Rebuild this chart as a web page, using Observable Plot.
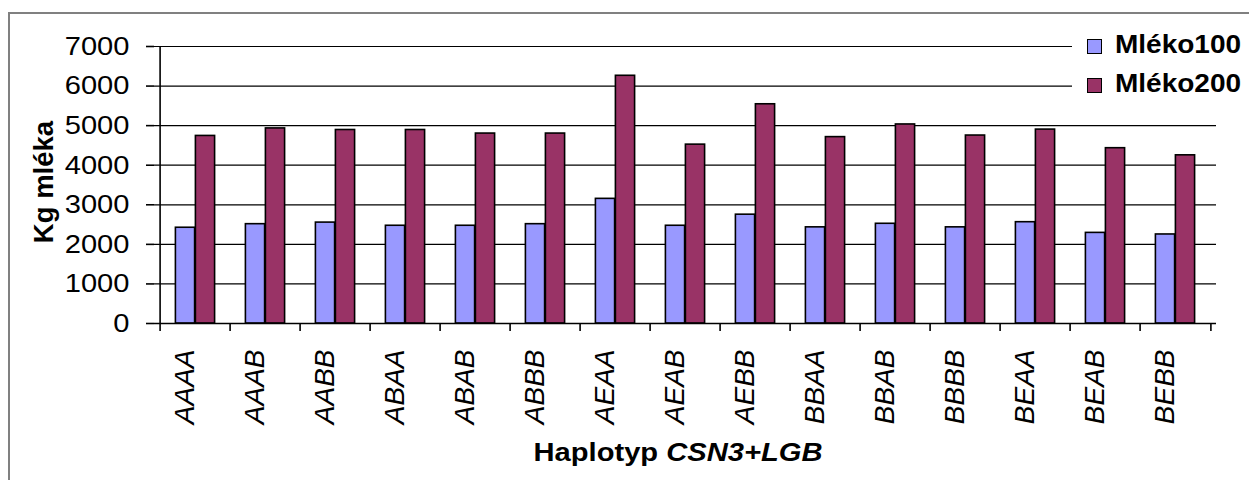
<!DOCTYPE html>
<html>
<head>
<meta charset="utf-8">
<script src="https://cdn.jsdelivr.net/npm/d3@7"></script>
<script src="https://cdn.jsdelivr.net/npm/@observablehq/plot@0.6"></script>
<style>
  html, body { margin: 0; padding: 0; background: #fff; }
  #wrap { position: relative; width: 1249px; height: 480px; overflow: hidden; font-family: "Liberation Sans", Arial, sans-serif; color: #000; }
  #border { position: absolute; left: 8px; top: 12px; width: 1400px; height: 600px; border: 2px solid #808080; box-sizing: border-box; }
  #chart { position: absolute; left: 0; top: 0; }
  #ylabel { position: absolute; left: 44px; top: 182px; transform: translate(-50%, -50%) rotate(-90deg); font-weight: bold; font-size: 27.5px; line-height: 1; white-space: nowrap; }
  #xlabel { position: absolute; left: 678px; top: 451.5px; transform: translate(-50%, -50%) scaleX(1.12); font-weight: bold; font-size: 26px; line-height: 1; white-space: nowrap; }
  #legendbg { position: absolute; left: 1072px; top: 24px; width: 177px; height: 84px; background: #fff; }
  .sw { position: absolute; left: 1087px; width: 15px; height: 15px; border: 1.5px solid #000; box-sizing: border-box; }
  .lt { position: absolute; left: 1115px; font-weight: bold; font-size: 25px; line-height: 1; white-space: nowrap; transform: scaleX(1.12); transform-origin: left center; }
</style>
</head>
<body>
<div id="wrap">
  <div id="border"></div>
  <div id="chart"></div>
  <div id="ylabel">Kg mléka</div>
  <div id="xlabel">Haplotyp <i>CSN3+LGB</i></div>
  <div id="legendbg"></div>
</div>
<script>
const categories = ["AAAA","AAAB","AABB","ABAA","ABAB","ABBB","AEAA","AEAB","AEBB","BBAA","BBAB","BBBB","BEAA","BEAB","BEBB"];
const seriesNames = ["Mléko100", "Mléko200"];
const mleko100 = [2420, 2510, 2550, 2470, 2470, 2510, 3150, 2470, 2750, 2430, 2520, 2430, 2560, 2290, 2250];
const mleko200 = [4740, 4930, 4890, 4890, 4800, 4800, 6260, 4520, 5540, 4710, 5030, 4750, 4900, 4430, 4250];
const yTicks = [0, 1000, 2000, 3000, 4000, 5000, 6000, 7000];
const colors = ["#9999FF", "#993366"];

const W = 1249, H = 480, mL = 154, mR = 33, mT = 46, mB = 157;
const bw = (W - mL - mR) / categories.length;
const barW = 20;

const rows100 = categories.map((c, i) => ({hap: c, value: mleko100[i]}));
const rows200 = categories.map((c, i) => ({hap: c, value: mleko200[i]}));

const chart = Plot.plot({
  width: W, height: H,
  marginLeft: mL, marginRight: mR, marginTop: mT, marginBottom: mB,
  style: {fontFamily: "'Liberation Sans', Arial, sans-serif", fontSize: "26px", color: "#000", background: "transparent", overflow: "visible"},
  x: {domain: categories, padding: 0, label: null},
  y: {domain: [0, 7000], label: null},
  marks: [
    Plot.ruleY(yTicks.slice(1), {stroke: "#000", strokeWidth: 1.2}),
    Plot.barY(rows100, {x: "hap", y: "value", fill: colors[0], stroke: "#000", strokeWidth: 1.6, insetLeft: bw / 2 - barW, insetRight: bw / 2}),
    Plot.barY(rows200, {x: "hap", y: "value", fill: colors[1], stroke: "#000", strokeWidth: 1.6, insetLeft: bw / 2, insetRight: bw / 2 - barW}),
    Plot.ruleY([0], {stroke: "#000", strokeWidth: 1.6}),
    Plot.ruleX([categories[0]], {x: d => d, y1: 0, y2: 7000, dx: -bw / 2, stroke: "#000", strokeWidth: 1.6}),
    Plot.ruleX(categories, {x: d => d, y1: -200, y2: 0, dx: -bw / 2, stroke: "#000", strokeWidth: 1.6}),
    Plot.ruleX([categories[categories.length - 1]], {x: d => d, y1: -200, y2: 0, dx: bw / 2, stroke: "#000", strokeWidth: 1.6}),
    Plot.axisY({ticks: yTicks, tickFormat: d3.format("d"), tickSize: 8, tickPadding: 17, stroke: "#000", strokeWidth: 1.6, fontSize: 26}),
    Plot.axisX({tickSize: 0, tickPadding: 26, tickRotate: -90, fontStyle: "italic", fontSize: 28, dx: -10})
  ]
});
document.getElementById("chart").appendChild(chart);

// Horizontal y tick labels are slightly stretched in the reference rendering
d3.select(chart).selectAll("g[aria-label='y-axis tick label'] text").each(function() {
  const t = this.getAttribute("transform") || "";
  this.setAttribute("transform", t + " scale(1.12,1)");
});

const wrap = document.getElementById("wrap");
const swTops = [39, 78];
const textTops = [32, 71];
seriesNames.forEach((name, i) => {
  const sw = document.createElement("div");
  sw.className = "sw";
  sw.style.top = swTops[i] + "px";
  sw.style.background = colors[i];
  const label = document.createElement("div");
  label.className = "lt";
  label.style.top = textTops[i] + "px";
  label.textContent = name;
  wrap.appendChild(sw);
  wrap.appendChild(label);
});
</script>
</body>
</html>
